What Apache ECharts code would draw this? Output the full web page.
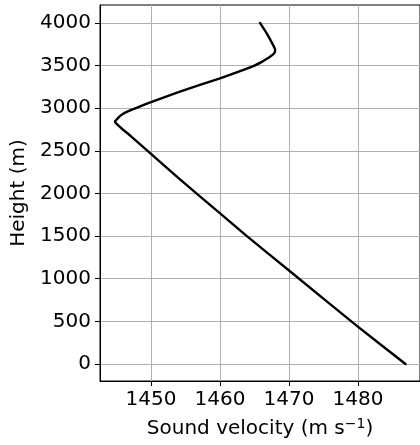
<!DOCTYPE html>
<html><head><meta charset="utf-8">
<script src="https://cdn.jsdelivr.net/npm/echarts@6/dist/echarts.min.js"></script>
<style>html,body{margin:0;padding:0;background:#fff}#c{width:420px;height:445px}</style>
</head><body><div id="c"></div>
<script>
const heights = [0, 450, 1090, 1500, 1780, 2200, 2500, 2670, 2750, 2800, 2825, 2846, 2865, 2900, 2932, 2965, 3000, 3070, 3200, 3350, 3455, 3500, 3540, 3570, 3600, 3630, 3660, 3685, 3725, 3860, 4000];
const velocities = [1486.9, 1479.8, 1470.1, 1463.9, 1459.8, 1453.7, 1449.5, 1447.1, 1445.9, 1445.2, 1444.9, 1444.77, 1445.0, 1445.4, 1445.9, 1446.7, 1447.8, 1450.0, 1454.4, 1460.0, 1463.6, 1465.0, 1466.0, 1466.6, 1467.2, 1467.7, 1467.95, 1468.0, 1467.8, 1466.9, 1465.8];
const xTicks = [1450, 1460, 1470, 1480];
const yTicks = [0, 500, 1000, 1500, 2000, 2500, 3000, 3500, 4000];

const points = heights.map((h, i) => [velocities[i], h]);
const fontFamily = 'DejaVu Sans';
const plain = v => String(v);
const chart = echarts.init(document.getElementById('c'), null, {renderer: 'canvas'});
chart.setOption({
  animation: false,
  backgroundColor: '#fff',
  grid: {left: 100, top: 5, right: -10, bottom: 64, show: true, borderColor: '#000', borderWidth: 1, backgroundColor: 'transparent'},
  xAxis: {
    type: 'value', min: 1442.6, max: 1489,
    name: 'Sound velocity (m s{sup|−1})', nameLocation: 'middle', nameGap: 36,
    nameTextStyle: {fontFamily, fontSize: 20, color: '#000', rich: {sup: {fontFamily, fontSize: 14, color: '#000', verticalAlign: 'top', padding: [0, 0, 10, 0]}}},
    axisLine: {show: true, onZero: false, lineStyle: {color: '#000', width: 1}},
    axisTick: {show: true, length: 5, customValues: xTicks, lineStyle: {color: '#000', width: 1}},
    axisLabel: {customValues: xTicks, formatter: plain, fontFamily, fontSize: 20, color: '#000', margin: 9},
    splitLine: {show: true, lineStyle: {color: '#b0b0b0', width: 1}}
  },
  yAxis: {
    type: 'value', min: -200, max: 4210,
    name: 'Height (m)', nameLocation: 'middle', nameGap: 68,
    nameTextStyle: {fontFamily, fontSize: 20, color: '#000'},
    axisLine: {show: true, onZero: false, lineStyle: {color: '#000', width: 1}},
    axisTick: {show: true, length: 5, customValues: yTicks, lineStyle: {color: '#000', width: 1}},
    axisLabel: {customValues: yTicks, formatter: plain, fontFamily, fontSize: 20, color: '#000', margin: 9},
    splitLine: {show: true, lineStyle: {color: '#b0b0b0', width: 1}}
  },
  series: [{
    type: 'line', data: points, showSymbol: false, symbol: 'none', smooth: 0.2,
    lineStyle: {color: '#000', width: 2.4, join: 'round', cap: 'round'}, clip: true
  }]
});
</script></body></html>
